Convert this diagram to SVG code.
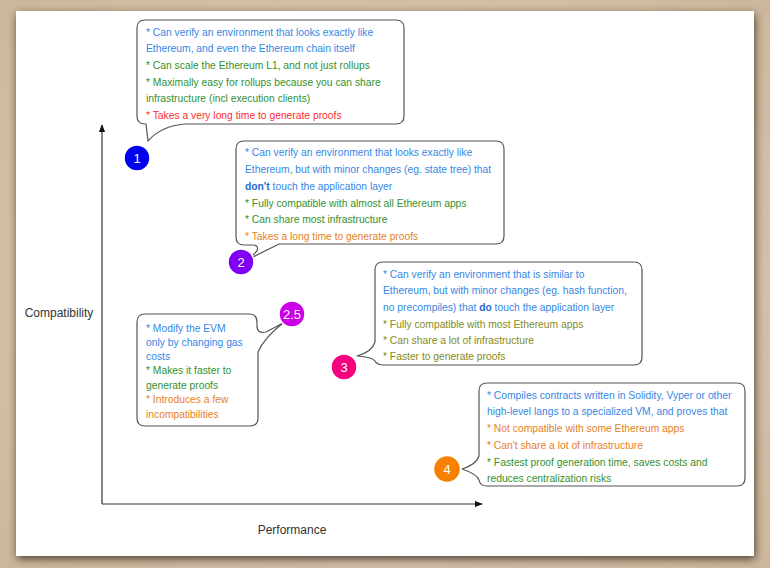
<svg xmlns="http://www.w3.org/2000/svg" width="770" height="568" viewBox="0 0 770 568">
<style>
  text { font-family: "Liberation Sans", Arial, sans-serif; }
  .t { font-size: 10.3px; }
  .blue { fill: #3587e6; }
  .green { fill: #33912f; }
  .red { fill: #ff2e2e; }
  .orange { fill: #e57f26; }
  .olive { fill: #858a1e; }
  .b { font-weight: bold; fill: #1f6cd0; }
  .callout { fill: #ffffff; stroke: #555555; stroke-width: 1.2; stroke-linejoin: round; }
  .axis { stroke: #333333; stroke-width: 1.2; fill: none; }
  .badge { stroke: #ffffff; stroke-width: 1.5; }
  .num { fill: #ffffff; font-size: 13px; text-anchor: middle; }
  .lbl { fill: #333333; font-size: 12px; text-anchor: middle; }
</style>
<defs>
  <radialGradient id="bg" cx="50%" cy="50%" r="70%">
    <stop offset="0" stop-color="#e2d3bd"/>
    <stop offset="1" stop-color="#cbb79c"/>
  </radialGradient>
  <filter id="shadow" x="-5%" y="-5%" width="110%" height="112%">
    <feDropShadow dx="1" dy="3" stdDeviation="4" flood-color="#3a2a1a" flood-opacity="0.85"/>
  </filter>
  <marker id="arrow" viewBox="0 0 10 10" refX="9" refY="5" markerWidth="8" markerHeight="8" markerUnits="userSpaceOnUse" orient="auto">
    <path d="M0,1 L10,5 L0,9 Z" fill="#111111"/>
  </marker>
</defs>

<rect x="0" y="0" width="770" height="568" fill="url(#bg)"/>
<rect x="16" y="11" width="738" height="545" fill="#ffffff" filter="url(#shadow)"/>

<g id="connectors">
  <path class="axis" d="M102,504 V125" marker-end="url(#arrow)"/>
  <path class="axis" d="M102,504 H482" marker-end="url(#arrow)"/>
</g>

<text class="lbl" x="59" y="317">Compatibility</text>
<text class="lbl" x="292" y="534">Performance</text>

<g id="callout1">
  <path class="callout" d="M145,20 H396 Q404,20 404,28 V116 Q404,124 396,124 H185 Q161,126 148,141 L146,124 H145 Q137,124 137,116 V28 Q137,20 145,20 Z"/>
  <text class="t blue" x="146" y="36">* Can verify an environment that looks exactly like</text>
  <text class="t blue" x="146" y="52">Ethereum, and even the Ethereum chain itself</text>
  <text class="t green" x="146" y="69">* Can scale the Ethereum L1, and not just rollups</text>
  <text class="t green" x="146" y="86">* Maximally easy for rollups because you can share</text>
  <text class="t green" x="146" y="102">infrastructure (incl execution clients)</text>
  <text class="t red" x="146" y="119">* Takes a very long time to generate proofs</text>
</g>

<g id="callout2">
  <path class="callout" d="M244,141 H496 Q504,141 504,149 V236 Q504,244 496,244 H279 L249,259 L257,251 Q259,245 253,245 H244 Q236,245 236,237 V149 Q236,141 244,141 Z"/>
  <text class="t blue" x="245" y="156">* Can verify an environment that looks exactly like</text>
  <text class="t blue" x="245" y="173">Ethereum, but with minor changes (eg. state tree) that</text>
  <text class="t blue" x="245" y="190"><tspan class="b">don't</tspan> touch the application layer</text>
  <text class="t green" x="245" y="207">* Fully compatible with almost all Ethereum apps</text>
  <text class="t green" x="245" y="223">* Can share most infrastructure</text>
  <text class="t orange" x="245" y="240">* Takes a long time to generate proofs</text>
</g>

<g id="callout3">
  <path class="callout" d="M383,262 H634 Q642,262 642,270 V357 Q642,365 634,365 H384 Q377,365 375,361 Q372,357 357,356 Q372,352 375,342 V270 Q375,262 383,262 Z"/>
  <text class="t blue" x="383" y="278">* Can verify an environment that is similar to</text>
  <text class="t blue" x="383" y="294">Ethereum, but with minor changes (eg. hash function,</text>
  <text class="t blue" x="383" y="311">no precompiles) that <tspan class="b">do</tspan> touch the application layer</text>
  <text class="t olive" x="383" y="328">* Fully compatible with most Ethereum apps</text>
  <text class="t olive" x="383" y="344">* Can share a lot of infrastructure</text>
  <text class="t olive" x="383" y="360">* Faster to generate proofs</text>
</g>

<g id="callout25">
  <path class="callout" d="M145,314 H249 Q257,314 257,322 V326 Q257,334 266,332 L283,323 Q264,338 258,352 V418 Q258,426 250,426 H145 Q137,426 137,418 V322 Q137,314 145,314 Z"/>
  <text class="t blue" x="146" y="332">* Modify the EVM</text>
  <text class="t blue" x="146" y="346">only by changing gas</text>
  <text class="t blue" x="146" y="360">costs</text>
  <text class="t green" x="146" y="374">* Makes it faster to</text>
  <text class="t green" x="146" y="389">generate proofs</text>
  <text class="t orange" x="146" y="403">* Introduces a few</text>
  <text class="t orange" x="146" y="418">incompatibilities</text>
</g>

<g id="callout4">
  <path class="callout" d="M487,383 H737 Q745,383 745,391 V478 Q745,486 737,486 H487 Q480,486 479,480 Q477,474 462,469 Q477,464 479,456 V391 Q479,383 487,383 Z"/>
  <text class="t blue" x="487" y="399">* Compiles contracts written in Solidity, Vyper or other</text>
  <text class="t blue" x="487" y="415">high-level langs to a specialized VM, and proves that</text>
  <text class="t orange" x="487" y="432">* Not compatible with some Ethereum apps</text>
  <text class="t orange" x="487" y="449">* Can't share a lot of infrastructure</text>
  <text class="t green" x="487" y="466">* Fastest proof generation time, saves costs and</text>
  <text class="t green" x="487" y="482">reduces centralization risks</text>
</g>

<g id="node1">
  <circle class="badge" cx="137" cy="158" r="13" fill="#0000ee"/>
  <text class="num" x="137" y="163">1</text>
</g>
<g id="node2">
  <circle class="badge" cx="241" cy="262" r="13" fill="#7f00f5"/>
  <text class="num" x="241" y="267">2</text>
</g>
<g id="node25">
  <circle class="badge" cx="292" cy="314" r="13" fill="#cc00e8"/>
  <text class="num" x="292" y="319">2.5</text>
</g>
<g id="node3">
  <circle class="badge" cx="344" cy="367" r="13" fill="#f5007f"/>
  <text class="num" x="344" y="372">3</text>
</g>
<g id="node4">
  <circle class="badge" cx="447" cy="469" r="13.5" fill="#f88000"/>
  <text class="num" x="447" y="474">4</text>
</g>
</svg>
